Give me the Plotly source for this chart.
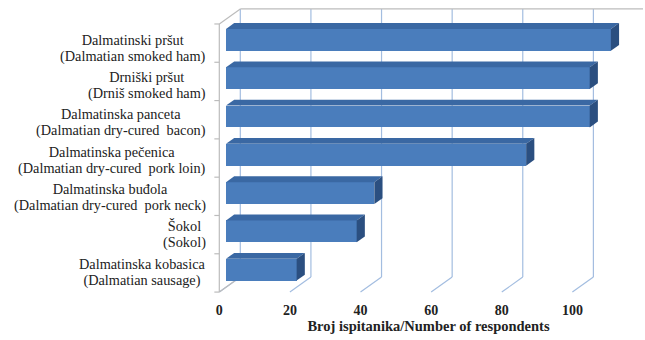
import plotly.graph_objects as go

# ---- data ----
labels_hr = ["Dalmatinski pršut", "Drniški pršut", "Dalmatinska panceta",
             "Dalmatinska pečenica", "Dalmatinska buđola", "Šokol",
             "Dalmatinska kobasica"]
labels_en = ["(Dalmatian smoked ham)", "(Drniš smoked ham)",
             "(Dalmatian dry-cured  bacon)", "(Dalmatian dry-cured  pork loin)",
             "(Dalmatian dry-cured  pork neck)", "(Sokol)", "(Dalmatian sausage)"]
values = [109, 103, 103, 85, 42, 37, 20]
x_ticks = [0, 20, 40, 60, 80, 100]
x_title = "Broj ispitanika/Number of respondents"

# ---- style / geometry ----
FONT = "Liberation Serif"
TXT = "#222222"
GRID = "#a3bde0"
WALL = "#bcbcbc"
FRONT = "#4a7dbc"
TOP = "#3a68a3"
SIDE = "#2b4f80"

W, H = 645, 340
ML, MR, MT, MB = 214, 2, 7, 46
X_MAX = 120
DX = 5.95      # depth offset of back wall (x units)
DY = 0.392     # depth offset of back wall (category units)
N = len(values)
BAR_F = 0.32   # depth fraction where bar front face sits
BAR_D = 0.39   # bar depth fraction
X0 = BAR_F * DX
BDX, BDY = BAR_D * DX, BAR_D * DY
BAR_TOP_OFF, BAR_BOT_OFF = 0.13, 0.70
LABEL_RIGHT_PX = 208
LABEL_Y0, LABEL_STEP = 0.63, 0.975

fig = go.Figure()

# front faces
fig.add_trace(go.Bar(
    orientation="h",
    y=[i + (BAR_TOP_OFF + BAR_BOT_OFF) / 2 for i in range(N)],
    x=values, base=X0, width=BAR_BOT_OFF - BAR_TOP_OFF,
    marker=dict(color=FRONT, line=dict(width=0)),
    hoverinfo="skip", showlegend=False))

# top and side faces
for i, v in enumerate(values):
    t = i + BAR_TOP_OFF
    b = i + BAR_BOT_OFF
    x1 = X0 + v
    fig.add_trace(go.Scatter(
        x=[X0, x1, x1 + BDX, X0 + BDX, X0], y=[t, t, t - BDY, t - BDY, t],
        fill="toself", fillcolor=TOP, mode="lines", line=dict(width=0, color=TOP),
        hoverinfo="skip", showlegend=False))
    fig.add_trace(go.Scatter(
        x=[x1, x1 + BDX, x1 + BDX, x1, x1], y=[t, t - BDY, b - BDY, b, t],
        fill="toself", fillcolor=SIDE, mode="lines", line=dict(width=0, color=SIDE),
        hoverinfo="skip", showlegend=False))

shapes = []
def line(x0, y0, x1, y1, color, w=1.2):
    shapes.append(dict(type="line", xref="x", yref="y", x0=x0, y0=y0, x1=x1, y1=y1,
                       line=dict(color=color, width=w), layer="below"))

for t in x_ticks:
    line(t + DX, -DY, t + DX, N - DY, GRID)
    line(t, N, t + DX, N - DY, GRID)
line(DX, -DY, X_MAX, -DY, WALL)
line(0, 0, 0, N, WALL)
line(0, 0, DX, -DY, WALL)
line(0, N, DX, N - DY, WALL)
for k in range(N + 1):
    line(-1.4, k, 0, k, WALL)

plot_w = W - ML - MR
label_x = (LABEL_RIGHT_PX - ML) / plot_w
annotations = []
for i in range(N):
    annotations.append(dict(
        xref="paper", yref="y", x=label_x, y=LABEL_Y0 + LABEL_STEP * i,
        text=(f"<span style='font-family:Liberation Serif;font-size:14.3px'>"
              f"{labels_hr[i]}<br>{labels_en[i]}</span>"),
        showarrow=False, xanchor="right", yanchor="middle", align="center",
        font=dict(family=FONT, size=12, color=TXT)))

fig.update_layout(
    width=W, height=H,
    margin=dict(l=ML, r=MR, t=MT, b=MB),
    paper_bgcolor="white", plot_bgcolor="white",
    shapes=shapes, annotations=annotations,
    bargap=0,
    xaxis=dict(range=[-1.5, X_MAX], tickvals=x_ticks, ticktext=[str(t) for t in x_ticks],
               showgrid=False, zeroline=False, showline=False, ticks="",
               ticklabelstandoff=6,
               tickfont=dict(family=FONT, size=14, color=TXT, weight="bold"),
               title=dict(text=f"<b>{x_title}</b>", standoff=2,
                          font=dict(family=FONT, size=14.5, color=TXT))),
    yaxis=dict(range=[N + 0.05, -0.443], showticklabels=False, showgrid=False,
               zeroline=False, showline=False, ticks=""),
)

fig.write_html("out.html")
